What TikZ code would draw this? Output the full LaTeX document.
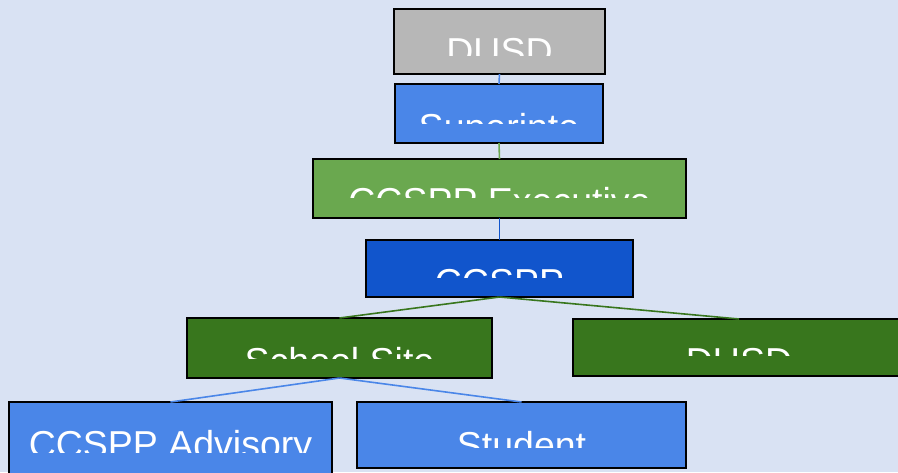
\documentclass[tikz,border=0pt]{standalone}
\usepackage{fontspec}
\setmainfont{Liberation Sans}
\definecolor{bg}{HTML}{D9E2F3}
\definecolor{cgray}{HTML}{B7B7B7}
\definecolor{cblue}{HTML}{4A86E8}
\definecolor{cgreen}{HTML}{6AA84F}
\definecolor{cdblue}{HTML}{1155CC}
\definecolor{cdgreen}{HTML}{38761D}
\newcommand\boxlabel[5]{%
  \begin{scope}
    \clip (#2.north west) rectangle (#2.east |- 0,#3);
    \node[lbl] (#1) at (#2.center |- 0,#4) {#5};
  \end{scope}}
\begin{document}
\begin{tikzpicture}[x=1pt,y=-1pt,
  box/.style={draw=black, line width=1.6pt, inner sep=0pt, outer sep=0pt, anchor=north west},
  lbl/.style={text=white, font=\fontsize{37.5}{42}\selectfont, anchor=base, inner sep=0pt},
  link/.style={line width=1.6pt}]
\fill[bg] (0,0) rectangle (898,472);
\useasboundingbox (0,0) rectangle (898,472);
\clip (0,0) rectangle (898,472);
% boxes
\node[box, fill=cgray, minimum width=211pt, minimum height=65pt] (b1) at (394,9) {};
\node[box, fill=cblue, minimum width=208pt, minimum height=59pt] (b2) at (395,84) {};
\node[box, fill=cgreen, minimum width=373pt, minimum height=59pt] (b3) at (313,159) {};
\node[box, fill=cdblue, minimum width=267pt, minimum height=57pt] (b4) at (366,240) {};
\node[box, fill=cdgreen, minimum width=305pt, minimum height=60pt] (b5) at (187,318) {};
\node[box, fill=cdgreen, minimum width=332pt, minimum height=57pt] (b6) at (573,319) {};
\node[box, fill=cblue, minimum width=323pt, minimum height=80pt] (b7) at (9,402) {};
\node[box, fill=cblue, minimum width=329pt, minimum height=66pt] (b8) at (357,402) {};
% connectors
\draw[link, cblue] (b1.south) -- (b2.north);
\draw[link, cgreen] (b2.south) -- (b3.north);
\draw[link, cdblue] (b3.south) -- (b4.north);
\draw[link, cdgreen] (b4.south) -- (b5.north);
\draw[link, cdgreen] (b4.south) -- (b6.north);
\draw[link, cblue] (b5.south) -- (b7.north);
\draw[link, cblue] (b5.south) -- (b8.north);
% clipped labels
\boxlabel{t1}{b1}{55}{64}{DUSD}
\boxlabel{t2}{b2}{123}{140}{Superinte}
\boxlabel{t3}{b3}{197}{214}{CCSPP Executive}
\boxlabel{t4}{b4}{277}{295}{CCSPP}
\boxlabel{t5}{b5}{358}{374}{School Site}
\boxlabel{t6}{b6}{355}{374}{DUSD}
\boxlabel{t7}{b7}{452}{457}{CCSPP Advisory}
\boxlabel{t8}{b8}{447}{458}{Student}
\end{tikzpicture}
\end{document}
